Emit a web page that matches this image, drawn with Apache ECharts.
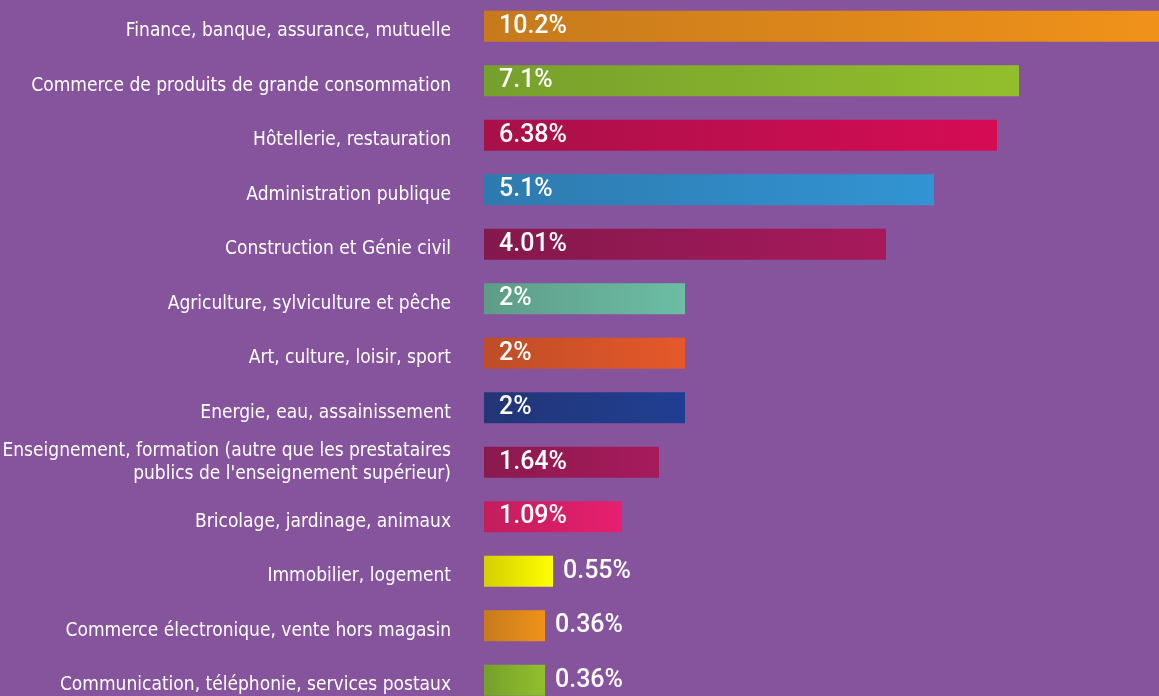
<!DOCTYPE html>
<html>
<head>
<meta charset="utf-8">
<script src="https://cdn.jsdelivr.net/npm/echarts@6/dist/echarts.min.js"></script>
<style>
    html, body { margin: 0; padding: 0; background: #86549c; }
    #container { width: 1159px; height: 696px; }
</style>
</head>
<body>
<div id="container"></div>
<script type="text/javascript">
    // secteurs, du haut vers le bas
    var sectors = [
        'Finance, banque, assurance, mutuelle',
        'Commerce de produits de grande consommation',
        'Hôtellerie, restauration',
        'Administration publique',
        'Construction et Génie civil',
        'Agriculture, sylviculture et pêche',
        'Art, culture, loisir, sport',
        'Energie, eau, assainissement',
        'Enseignement, formation (autre que les prestataires\npublics de l\'enseignement supérieur)',
        'Bricolage, jardinage, animaux',
        'Immobilier, logement',
        'Commerce électronique, vente hors magasin',
        'Communication, téléphonie, services postaux'
    ];
    // parts affichées (%)
    var shares = [10.2, 7.1, 6.38, 5.1, 4.01, 2, 2, 2, 1.64, 1.09, 0.55, 0.36, 0.36];
    // longueur dessinée des barres (pas proportionnelle aux parts)
    var barLength = [6.8, 5.35, 5.13, 4.5, 4.02, 2.01, 2.01, 2.01, 1.75, 1.38, 0.69, 0.61, 0.61];
    // dégradés gauche -> droite
    var colorFrom = ['#c67a1c', '#76a02c', '#a81048', '#2e7aae', '#84184c', '#5e9c88', '#be4d27',
        '#223677', '#8a1a4e', '#c21e5c', '#d4ce00', '#c67a1c', '#74a02c'];
    var colorTo = ['#f0921a', '#93bf2d', '#d60c55', '#3294d3', '#a7195c', '#6cbda4', '#e6582a',
        '#203e92', '#a71a5c', '#e71f6f', '#ffff00', '#f0921a', '#93bf2d'];

    var dom = document.getElementById('container');
    var myChart = echarts.init(dom);

    var labelFont = '"DejaVu Sans Condensed", sans-serif';

    var seriesData = barLength.map(function (v, i) {
        var outside = v < 1;
        return {
            value: v,
            share: shares[i],
            itemStyle: {
                color: new echarts.graphic.LinearGradient(0, 0, 1, 0, [
                    {offset: 0, color: colorFrom[i]},
                    {offset: 1, color: colorTo[i]}
                ])
            },
            label: {
                position: outside ? 'right' : 'insideLeft',
                distance: outside ? 10 : 15
            }
        };
    });

    var option = {
        backgroundColor: '#86549c',
        animation: false,
        grid: {
            left: 484,
            right: 0,
            top: -1,
            height: 708.5,
            containLabel: false,
            outerBoundsMode: 'none'
        },
        xAxis: {
            type: 'value',
            min: 0,
            max: 6.75,
            show: false
        },
        yAxis: {
            type: 'category',
            inverse: true,
            data: sectors,
            axisLine: {show: false},
            axisTick: {show: false},
            splitLine: {show: false},
            axisLabel: {
                color: '#ffffff',
                fontSize: 19,
                lineHeight: 23,
                margin: 33,
                fontFamily: labelFont,
                // une seule ligne : un peu plus bas que le centre de la barre
                formatter: function (v) {
                    return v.indexOf('\n') < 0 ? '{s|' + v + '}' : v;
                },
                rich: {
                    s: {
                        color: '#ffffff',
                        fontSize: 19,
                        lineHeight: 23,
                        fontFamily: labelFont,
                        padding: [10, 0, 0, 0]
                    }
                }
            }
        },
        series: [{
            type: 'bar',
            barWidth: 31,
            clip: true,
            data: seriesData,
            label: {
                show: true,
                color: '#ffffff',
                fontSize: 25,
                fontWeight: 500,
                fontFamily: 'Roboto, sans-serif',
                formatter: function (p) {
                    return p.data.share + '%';
                }
            }
        }]
    };

    myChart.setOption(option);
</script>
</body>
</html>
